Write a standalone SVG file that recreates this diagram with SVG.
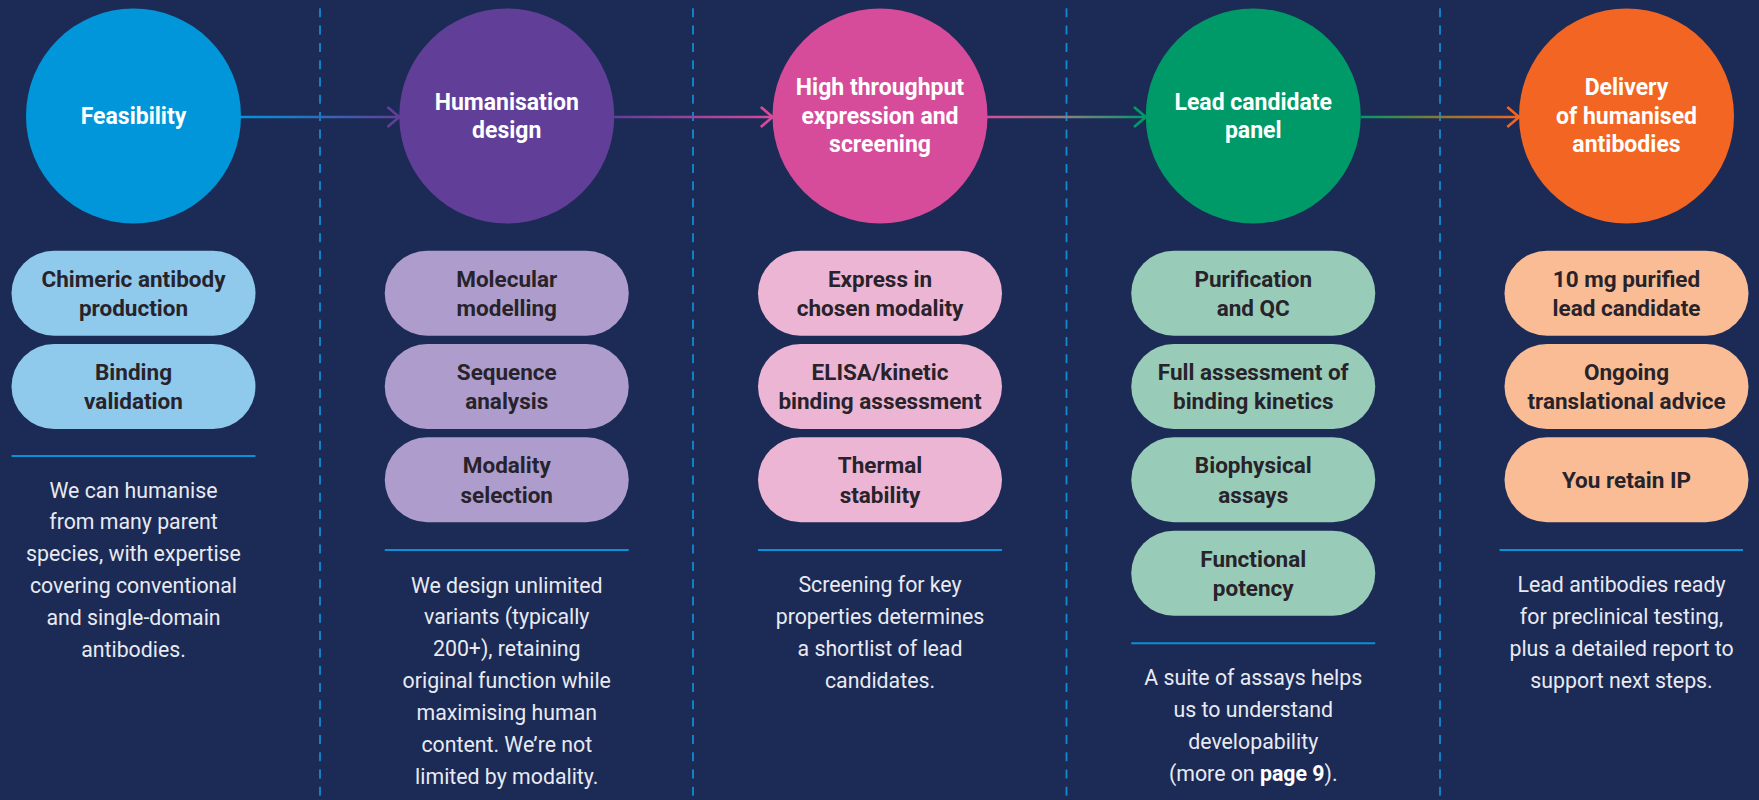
<svg xmlns="http://www.w3.org/2000/svg" width="1759" height="800" viewBox="0 0 1759 800">
<defs>
<style>
.bg{fill:#1c2a56}
.dash{stroke:#1389d2;stroke-width:1.8;stroke-dasharray:9 8.3;fill:none}
.circ-t{font-family:Roboto,"Liberation Sans",sans-serif;font-weight:700;font-size:23px;fill:#ffffff;text-anchor:middle}
.pill-t{font-family:Roboto,"Liberation Sans",sans-serif;font-weight:700;font-size:22.5px;fill:#28232a;text-anchor:middle}
.body-t{font-family:Roboto,"Liberation Sans",sans-serif;font-weight:400;font-size:21.3px;fill:#e8eaf2;text-anchor:middle}
.div{stroke:#0a8fd8;stroke-width:2}
.conn{fill:none;stroke-width:2.6}
.head{fill:none;stroke-width:2.6;stroke-linejoin:miter}
.p1{fill:#8fc9ec}.p2{fill:#ae9dcc}.p3{fill:#edb5d4}.p4{fill:#98ccb8}.p5{fill:#f9bc94}
</style>
<linearGradient id="g1" gradientUnits="userSpaceOnUse" x1="241" y1="0" x2="399" y2="0"><stop offset="0" stop-color="#0096d9"/><stop offset="1" stop-color="#613f98"/></linearGradient>
<linearGradient id="g2" gradientUnits="userSpaceOnUse" x1="614" y1="0" x2="773" y2="0"><stop offset="0" stop-color="#613f98"/><stop offset="1" stop-color="#d64c9a"/></linearGradient>
<linearGradient id="g3" gradientUnits="userSpaceOnUse" x1="987" y1="0" x2="1146" y2="0"><stop offset="0" stop-color="#d64c9a"/><stop offset="0.5" stop-color="#8a8080"/><stop offset="1" stop-color="#009a69"/></linearGradient>
<linearGradient id="g4" gradientUnits="userSpaceOnUse" x1="1361" y1="0" x2="1519" y2="0"><stop offset="0" stop-color="#009a69"/><stop offset="0.5" stop-color="#8a7a30"/><stop offset="1" stop-color="#f26522"/></linearGradient>
</defs>
<rect class="bg" x="0" y="0" width="1759" height="800"/>

<g id="separators">
<line class="dash" x1="320" y1="8.3" x2="320" y2="800"/>
<line class="dash" x1="693" y1="8.3" x2="693" y2="800"/>
<line class="dash" x1="1066.5" y1="8.3" x2="1066.5" y2="800"/>
<line class="dash" x1="1440" y1="8.3" x2="1440" y2="800"/>
</g>

<g id="connectors">
<line class="conn" stroke="url(#g1)" x1="241" y1="117" x2="398" y2="117"/>
<polyline class="head" stroke="#613f98" points="387.5,107 399.3,117 387.5,127"/>
<line class="conn" stroke="url(#g2)" x1="614" y1="117" x2="772" y2="117"/>
<polyline class="head" stroke="#d64c9a" points="760.8,107 772.6,117 760.8,127"/>
<line class="conn" stroke="url(#g3)" x1="987" y1="117" x2="1145" y2="117"/>
<polyline class="head" stroke="#009a69" points="1134,107 1145.8,117 1134,127"/>
<line class="conn" stroke="url(#g4)" x1="1361" y1="117" x2="1518" y2="117"/>
<polyline class="head" stroke="#f26522" points="1507.3,107 1519.1,117 1507.3,127"/>
</g>

<g id="step1">
<circle cx="133.5" cy="116" r="107.5" fill="#0096d9"/>
<text class="circ-t" x="133.5" y="124">Feasibility</text>
<g id="step1-pills">
<rect class="p1" x="11.5" y="250.7" width="244" height="85" rx="42.5"/>
<text class="pill-t" x="133.5" y="286.7">Chimeric antibody</text>
<text class="pill-t" x="133.5" y="316">production</text>
<rect class="p1" x="11.5" y="344" width="244" height="85" rx="42.5"/>
<text class="pill-t" x="133.5" y="380">Binding</text>
<text class="pill-t" x="133.5" y="409.3">validation</text>
</g>
<line class="div" x1="11.5" y1="456" x2="255.5" y2="456"/>
<text class="body-t" x="133.5" y="497.5">We can humanise</text>
<text class="body-t" x="133.5" y="529.4">from many parent</text>
<text class="body-t" x="133.5" y="561.3">species, with expertise</text>
<text class="body-t" x="133.5" y="593.2">covering conventional</text>
<text class="body-t" x="133.5" y="625.1">and single-domain</text>
<text class="body-t" x="133.5" y="657">antibodies.</text>
</g>

<g id="step2">
<circle cx="506.75" cy="116" r="107.5" fill="#613f98"/>
<text class="circ-t" x="506.75" y="110">Humanisation</text>
<text class="circ-t" x="506.75" y="138">design</text>
<rect class="p2" x="384.75" y="250.7" width="244" height="85" rx="42.5"/>
<text class="pill-t" x="506.75" y="286.7">Molecular</text>
<text class="pill-t" x="506.75" y="316">modelling</text>
<rect class="p2" x="384.75" y="344" width="244" height="85" rx="42.5"/>
<text class="pill-t" x="506.75" y="380">Sequence</text>
<text class="pill-t" x="506.75" y="409.3">analysis</text>
<rect class="p2" x="384.75" y="437.3" width="244" height="85" rx="42.5"/>
<text class="pill-t" x="506.75" y="473.3">Modality</text>
<text class="pill-t" x="506.75" y="502.6">selection</text>
<line class="div" x1="384.75" y1="550" x2="628.75" y2="550"/>
<text class="body-t" x="506.75" y="592.5">We design unlimited</text>
<text class="body-t" x="506.75" y="624.4">variants (typically</text>
<text class="body-t" x="506.75" y="656.3">200+), retaining</text>
<text class="body-t" x="506.75" y="688.2">original function while</text>
<text class="body-t" x="506.75" y="720.1">maximising human</text>
<text class="body-t" x="506.75" y="752">content. We’re not</text>
<text class="body-t" x="506.75" y="783.9">limited by modality.</text>
</g>

<g id="step3">
<circle cx="880" cy="116" r="107.5" fill="#d64c9a"/>
<text class="circ-t" x="880" y="95">High throughput</text>
<text class="circ-t" x="880" y="123.5">expression and</text>
<text class="circ-t" x="880" y="152">screening</text>
<rect class="p3" x="758" y="250.7" width="244" height="85" rx="42.5"/>
<text class="pill-t" x="880" y="286.7">Express in</text>
<text class="pill-t" x="880" y="316">chosen modality</text>
<rect class="p3" x="758" y="344" width="244" height="85" rx="42.5"/>
<text class="pill-t" x="880" y="380">ELISA/kinetic</text>
<text class="pill-t" x="880" y="409.3">binding assessment</text>
<rect class="p3" x="758" y="437.3" width="244" height="85" rx="42.5"/>
<text class="pill-t" x="880" y="473.3">Thermal</text>
<text class="pill-t" x="880" y="502.6">stability</text>
<line class="div" x1="758" y1="550" x2="1002" y2="550"/>
<text class="body-t" x="880" y="592">Screening for key</text>
<text class="body-t" x="880" y="623.9">properties determines</text>
<text class="body-t" x="880" y="655.8">a shortlist of lead</text>
<text class="body-t" x="880" y="687.7">candidates.</text>
</g>

<g id="step4">
<circle cx="1253.25" cy="116" r="107.5" fill="#009a69"/>
<text class="circ-t" x="1253.25" y="110">Lead candidate</text>
<text class="circ-t" x="1253.25" y="138">panel</text>
<rect class="p4" x="1131.25" y="250.7" width="244" height="85" rx="42.5"/>
<text class="pill-t" x="1253.25" y="286.7">Purification</text>
<text class="pill-t" x="1253.25" y="316">and QC</text>
<rect class="p4" x="1131.25" y="344" width="244" height="85" rx="42.5"/>
<text class="pill-t" x="1253.25" y="380">Full assessment of</text>
<text class="pill-t" x="1253.25" y="409.3">binding kinetics</text>
<rect class="p4" x="1131.25" y="437.3" width="244" height="85" rx="42.5"/>
<text class="pill-t" x="1253.25" y="473.3">Biophysical</text>
<text class="pill-t" x="1253.25" y="502.6">assays</text>
<rect class="p4" x="1131.25" y="530.7" width="244" height="85" rx="42.5"/>
<text class="pill-t" x="1253.25" y="566.7">Functional</text>
<text class="pill-t" x="1253.25" y="596">potency</text>
<line class="div" x1="1131.25" y1="643.3" x2="1375.25" y2="643.3"/>
<text class="body-t" x="1253.25" y="685">A suite of assays helps</text>
<text class="body-t" x="1253.25" y="716.9">us to understand</text>
<text class="body-t" x="1253.25" y="748.8">developability</text>
<text class="body-t" x="1253.25" y="780.7">(more on <tspan font-weight="700" fill="#ffffff">page 9</tspan>).</text>
</g>

<g id="step5">
<circle cx="1626.5" cy="116" r="107.5" fill="#f26522"/>
<text class="circ-t" x="1626.5" y="95">Delivery</text>
<text class="circ-t" x="1626.5" y="123.5">of humanised</text>
<text class="circ-t" x="1626.5" y="152">antibodies</text>
<rect class="p5" x="1504.5" y="250.7" width="244" height="85" rx="42.5"/>
<text class="pill-t" x="1626.5" y="286.7">10 mg purified</text>
<text class="pill-t" x="1626.5" y="316">lead candidate</text>
<rect class="p5" x="1504.5" y="344" width="244" height="85" rx="42.5"/>
<text class="pill-t" x="1626.5" y="380">Ongoing</text>
<text class="pill-t" x="1626.5" y="409.3">translational advice</text>
<rect class="p5" x="1504.5" y="437.3" width="244" height="85" rx="42.5"/>
<text class="pill-t" x="1626.5" y="487.7">You retain IP</text>
<line class="div" x1="1499.5" y1="550" x2="1743" y2="550"/>
<text class="body-t" x="1621.5" y="592.3">Lead antibodies ready</text>
<text class="body-t" x="1621.5" y="624.2">for preclinical testing,</text>
<text class="body-t" x="1621.5" y="656.1">plus a detailed report to</text>
<text class="body-t" x="1621.5" y="688">support next steps.</text>
</g>
</svg>
